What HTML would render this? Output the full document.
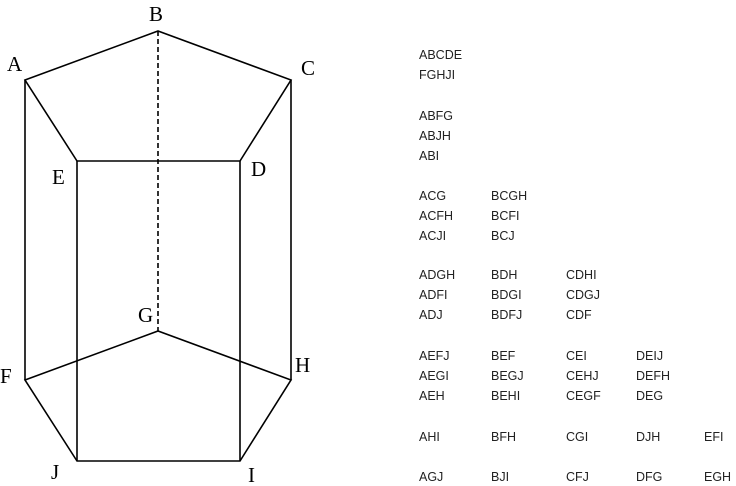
<!DOCTYPE html>
<html><head><meta charset="utf-8"><style>
html,body{margin:0;padding:0;background:#fff;width:736px;height:486px;overflow:hidden}
</style></head><body>
<svg width="736" height="486" viewBox="0 0 736 486" xmlns="http://www.w3.org/2000/svg">
<g stroke="#000" stroke-width="1.6" fill="none">
<polygon points="25,80 158,31 291,80 240,161 77,161"/>
<polygon points="25,380 158,331 291,380 240,461 77,461"/>
<line x1="25" y1="80" x2="25" y2="380"/>
<line x1="291" y1="80" x2="291" y2="380"/>
<line x1="77" y1="161" x2="77" y2="461"/>
<line x1="240" y1="161" x2="240" y2="461"/>
<line x1="158" y1="31" x2="158" y2="331" stroke-dasharray="5,3"/>
</g>
<g font-family="Liberation Serif, serif" font-size="21" fill="#000">
<text x="149" y="21">B</text>
<text x="7" y="71">A</text>
<text x="301" y="75">C</text>
<text x="52" y="184">E</text>
<text x="251" y="176">D</text>
<text x="138" y="322">G</text>
<text x="0" y="383">F</text>
<text x="295" y="372">H</text>
<text x="51" y="479">J</text>
<text x="248" y="482">I</text>
</g>
<g font-family="Liberation Sans, sans-serif" font-size="12.5" fill="#222">
<text x="419" y="59">ABCDE</text>
<text x="419" y="79">FGHJI</text>
<text x="419" y="120">ABFG</text>
<text x="419" y="140">ABJH</text>
<text x="419" y="160">ABI</text>
<text x="419" y="200">ACG</text><text x="491" y="200">BCGH</text>
<text x="419" y="220">ACFH</text><text x="491" y="220">BCFI</text>
<text x="419" y="240">ACJI</text><text x="491" y="240">BCJ</text>
<text x="419" y="279">ADGH</text><text x="491" y="279">BDH</text><text x="566" y="279">CDHI</text>
<text x="419" y="299">ADFI</text><text x="491" y="299">BDGI</text><text x="566" y="299">CDGJ</text>
<text x="419" y="319">ADJ</text><text x="491" y="319">BDFJ</text><text x="566" y="319">CDF</text>
<text x="419" y="360">AEFJ</text><text x="491" y="360">BEF</text><text x="566" y="360">CEI</text><text x="636" y="360">DEIJ</text>
<text x="419" y="380">AEGI</text><text x="491" y="380">BEGJ</text><text x="566" y="380">CEHJ</text><text x="636" y="380">DEFH</text>
<text x="419" y="400">AEH</text><text x="491" y="400">BEHI</text><text x="566" y="400">CEGF</text><text x="636" y="400">DEG</text>
<text x="419" y="441">AHI</text><text x="491" y="441">BFH</text><text x="566" y="441">CGI</text><text x="636" y="441">DJH</text><text x="704" y="441">EFI</text>
<text x="419" y="481">AGJ</text><text x="491" y="481">BJI</text><text x="566" y="481">CFJ</text><text x="636" y="481">DFG</text><text x="704" y="481">EGH</text>
</g>
</svg>
</body></html>
